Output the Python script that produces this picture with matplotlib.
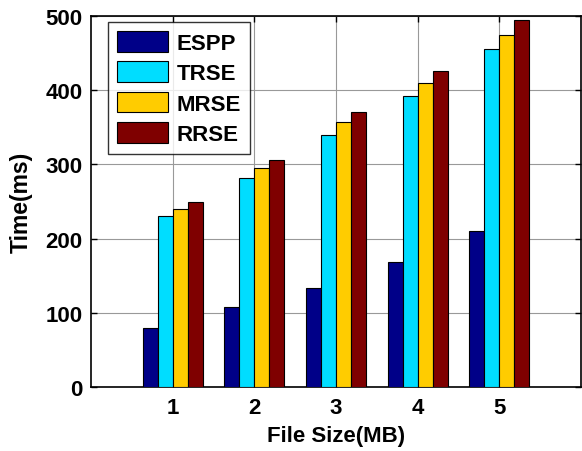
import matplotlib
matplotlib.use("Agg")
import matplotlib.pyplot as plt
import numpy as np

categories = [1, 2, 3, 4, 5]
series_names = ["ESPP", "TRSE", "MRSE", "RRSE"]
espp = [80, 108, 134, 168, 210]
trse = [230, 282, 340, 392, 455]
mrse = [240, 295, 357, 410, 475]
rrse = [250, 306, 370, 426, 495]
colors = ["#000088", "#00DDFF", "#FFCC00", "#7F0000"]

plt.rcParams['font.family'] = ['Liberation Sans', 'DejaVu Sans']
plt.rcParams['font.weight'] = 'bold'

fig = plt.figure(figsize=(5.82, 4.52), dpi=100)
ax = fig.add_axes([91/582, 64/452, 490/582, 371/452])

x = np.array(categories, dtype=float)
w = 0.183
data = [espp, trse, mrse, rrse]
for i, (vals, name, c) in enumerate(zip(data, series_names, colors)):
    ax.bar(x + (i - 1.5) * w, vals, width=w, color=c, edgecolor='black',
           linewidth=0.8, label=name, zorder=3)

ax.set_xlim(0, 6)
ax.set_ylim(0, 500)
ax.set_xticks(categories)
ax.set_yticks([0, 100, 200, 300, 400, 500])
ax.grid(True, color='#999999', linewidth=0.8, zorder=0)
ax.set_axisbelow(True)
ax.tick_params(direction='in', labelsize=16, length=4, width=1, top=True, right=True)
ax.tick_params(axis='x', pad=7)
ax.tick_params(axis='y', pad=6)
for lab in ax.get_xticklabels() + ax.get_yticklabels():
    lab.set_fontweight('bold')
for s in ax.spines.values():
    s.set_linewidth(1.2)
ax.set_xlabel("File Size(MB)", fontsize=16, fontweight='bold', labelpad=5)
ax.set_ylabel("Time(ms)", fontsize=16.5, fontweight='bold', labelpad=9)

leg = ax.legend(loc='upper left', bbox_to_anchor=(17/490, 1 - 6/371),
                prop={'weight': 'bold', 'size': 16}, frameon=True, fancybox=False,
                edgecolor='black', handlelength=2.3, handleheight=1.05,
                labelspacing=0.34, borderpad=0.4, handletextpad=0.4, borderaxespad=0)
leg.get_frame().set_linewidth(1.0)
leg.set_zorder(5)

fig.savefig("out.png", dpi=100)
